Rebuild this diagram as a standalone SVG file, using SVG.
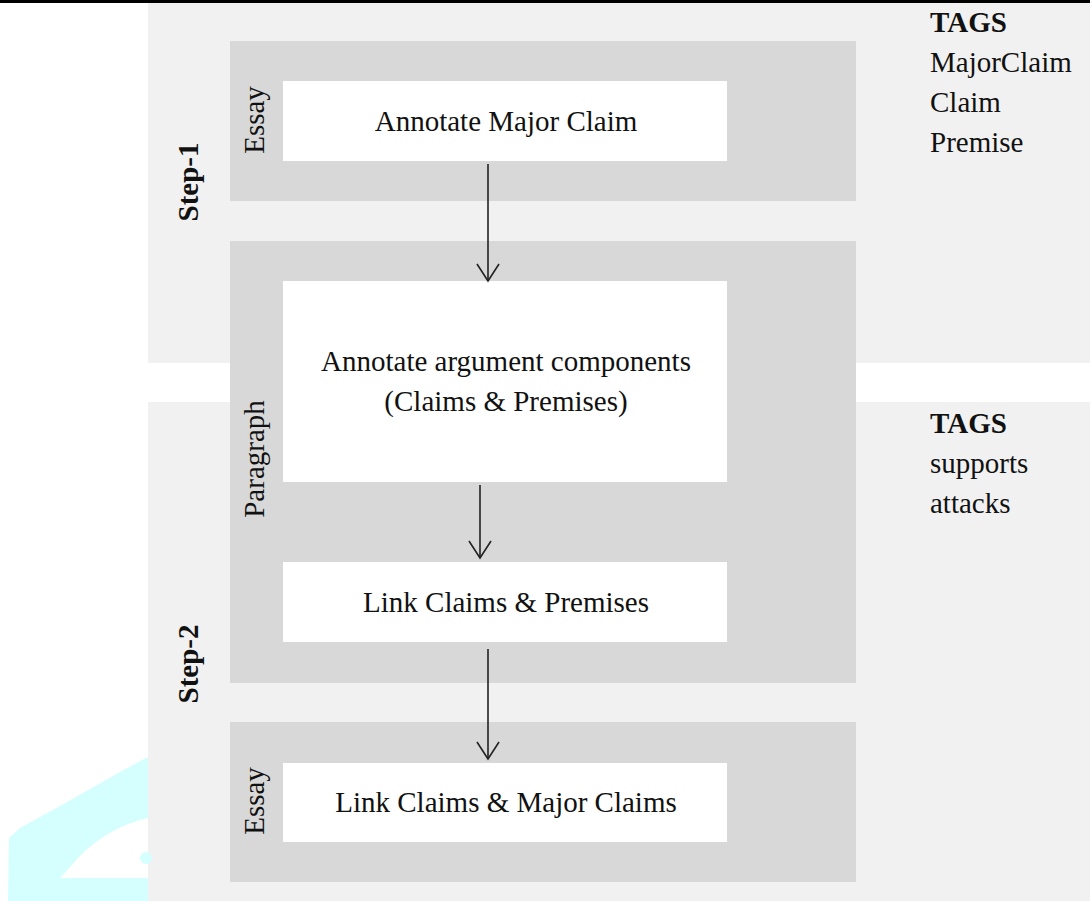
<svg xmlns="http://www.w3.org/2000/svg" width="1090" height="901" viewBox="0 0 1090 901">
<style>
.t{font-family:"Liberation Serif","Times New Roman",serif;font-size:29px;fill:#111}
.c{text-anchor:middle}
.b{font-weight:bold}
.panel{fill:#d8d8d8}
.box{fill:#ffffff}
.bg{fill:#f1f1f1}
.ln{stroke:#222;stroke-width:1.6;fill:none}
</style>
<defs>
<marker id="arr" viewBox="0 0 20 24" refX="18" refY="12" markerWidth="20" markerHeight="24" markerUnits="userSpaceOnUse" orient="auto">
<path d="M1,1 L18,12 L1,23" fill="none" stroke="#222" stroke-width="1.6"/>
</marker>
</defs>
<rect x="0" y="0" width="1090" height="901" fill="#ffffff"/>
<rect x="0" y="0" width="1090" height="3" fill="#000"/>
<g id="background">
<rect class="bg" x="148" y="3" width="942" height="360"/>
<rect class="bg" x="148" y="402" width="942" height="499"/>
<path d="M148,757 L120,772 L60,806 L20,828 L9,838 L8,901 L148,901 Z" fill="#d5ffff"/>
<path d="M148,818 C120,824 95,840 78,858 L60,878 L148,878 Z" fill="#ffffff"/>
<circle cx="146" cy="858" r="6" fill="#d5ffff"/>
</g>
<g id="step1">
<text class="t b c" transform="translate(198,182) rotate(-90)">Step-1</text>
</g>
<g id="step2">
<text class="t b c" transform="translate(198,664) rotate(-90)">Step-2</text>
</g>
<g id="essay1">
<rect class="panel" x="230" y="41" width="626" height="160"/>
<text class="t c" transform="translate(264,120) rotate(-90)">Essay</text>
</g>
<g id="paragraph">
<rect class="panel" x="230" y="241" width="626" height="442"/>
<text class="t c" transform="translate(264,459) rotate(-90)">Paragraph</text>
</g>
<g id="essay2">
<rect class="panel" x="230" y="722" width="626" height="160"/>
<text class="t c" transform="translate(264,801) rotate(-90)">Essay</text>
</g>
<g id="annotate-major-claim">
<rect class="box" x="283" y="81" width="444" height="80"/>
<text class="t c" x="506" y="131">Annotate Major Claim</text>
</g>
<g id="annotate-components">
<rect class="box" x="283" y="281" width="444" height="201"/>
<text class="t c" x="506" y="371">Annotate argument components</text>
<text class="t c" x="506" y="411">(Claims &amp; Premises)</text>
</g>
<g id="link-claims-premises">
<rect class="box" x="283" y="562" width="444" height="80"/>
<text class="t c" x="506" y="612">Link Claims &amp; Premises</text>
</g>
<g id="link-claims-major">
<rect class="box" x="283" y="763" width="444" height="79"/>
<text class="t c" x="506" y="812">Link Claims &amp; Major Claims</text>
</g>
<g id="tags1">
<text class="t b" x="930" y="32">TAGS</text>
<text class="t" x="930" y="72">MajorClaim</text>
<text class="t" x="930" y="112">Claim</text>
<text class="t" x="930" y="152">Premise</text>
</g>
<g id="tags2">
<text class="t b" x="930" y="433">TAGS</text>
<text class="t" x="930" y="473">supports</text>
<text class="t" x="930" y="513">attacks</text>
</g>
<g id="connectors">
<line class="ln" x1="488" y1="164" x2="488" y2="281" marker-end="url(#arr)"/>
<line class="ln" x1="480" y1="485" x2="480" y2="558" marker-end="url(#arr)"/>
<line class="ln" x1="488" y1="649" x2="488" y2="759" marker-end="url(#arr)"/>
</g>
</svg>
